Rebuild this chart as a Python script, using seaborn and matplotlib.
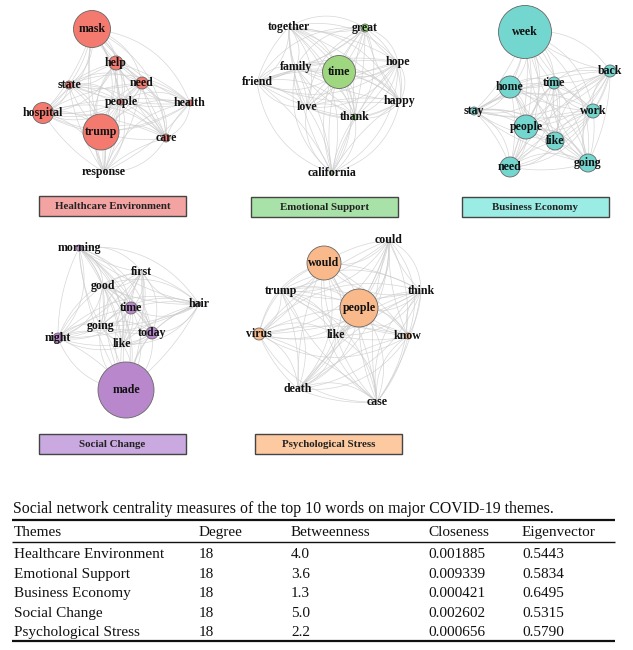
import numpy as np
import matplotlib
matplotlib.use("Agg")
import matplotlib.pyplot as plt
import seaborn as sns
import pandas as pd
from matplotlib.patches import Rectangle

sns.set_theme(style="white")
plt.rcParams["font.family"] = ["Liberation Serif", "DejaVu Serif"]

# ---- networks: word, layout x, layout y (pixels), node radius (pixels)
he_words = ["mask", "help", "state", "need", "people", "health", "hospital", "trump", "care", "response"]
he_x = [92, 116, 69, 142, 121, 190, 43, 101, 166, 104]
he_y = [29, 63, 85, 83, 102, 103, 113, 132, 138, 172]
he_r = [18.5, 7, 4, 6, 3, 3, 10.5, 18, 4, 0.5]

es_words = ["together", "great", "hope", "family", "time", "friend", "happy", "love", "thank", "california"]
es_x = [289, 365, 398, 296, 339, 257, 400, 307, 355, 332]
es_y = [27, 28, 62, 67, 72, 82, 101, 107, 117, 173]
es_r = [0, 4, 0, 0, 16.5, 0, 0, 0, 3, 2]

be_words = ["week", "back", "home", "time", "stay", "work", "people", "like", "need", "going"]
be_x = [525, 610, 510, 554, 474, 593, 526, 555, 510, 588]
be_y = [32, 71, 87, 83, 111, 111, 127, 141, 167, 163]
be_r = [26.5, 6, 11, 6, 4, 7, 12, 9, 10, 9]

sc_words = ["morning", "first", "good", "hair", "time", "going", "today", "night", "like", "made"]
sc_x = [79, 142, 103, 199, 131, 101, 152, 58, 122, 126]
sc_y = [248, 272, 286, 304, 308, 326, 333, 338, 344, 390]
sc_r = [3, 0, 0, 2, 6, 0, 6, 5, 0, 28]

ps_words = ["could", "would", "trump", "think", "people", "virus", "like", "know", "death", "case"]
ps_x = [389, 324, 281, 421, 359, 259, 336, 408, 298, 377]
ps_y = [240, 263, 291, 291, 308, 334, 335, 336, 389, 402]
ps_r = [0, 17, 0, 0, 19, 6, 0, 3, 0, 0]

themes = ["Healthcare Environment", "Emotional Support", "Business Economy", "Social Change", "Psychological Stress"]
node_colors = ["#f47a70", "#9ed77f", "#73d7d0", "#b988cc", "#f9b98a"]
box_colors = ["#f4a3a3", "#a9e2a8", "#9aece5", "#c9a9df", "#fcc9a0"]
box_x = [39, 251, 462, 39, 255]
box_y = [196, 197, 197, 434, 434]

# ---- table
degree = [18, 18, 18, 18, 18]
betweenness = ["4.0", "3.6", "1.3", "5.0", "2.2"]
closeness = ["0.001885", "0.009339", "0.000421", "0.002602", "0.000656"]
eigenvector = ["0.5443", "0.5834", "0.6495", "0.5315", "0.5790"]

networks = [
    (he_words, he_x, he_y, he_r),
    (es_words, es_x, es_y, es_r),
    (be_words, be_x, be_y, be_r),
    (sc_words, sc_x, sc_y, sc_r),
    (ps_words, ps_x, ps_y, ps_r),
]

fig = plt.figure(figsize=(6.33, 6.5), dpi=100)
ax = fig.add_axes([0, 0, 1, 1])


def curve(p, q, rad, n=40):
    p = np.asarray(p, float)
    q = np.asarray(q, float)
    mid = (p + q) / 2
    d = q - p
    ctrl = mid + rad * np.array([-d[1], d[0]])
    t = np.linspace(0, 1, n)[:, None]
    pts = (1 - t) ** 2 * p + 2 * (1 - t) * t * ctrl + t ** 2 * q
    return pts[:, 0], pts[:, 1]


for k, (words, xs, ys, rs) in enumerate(networks):
    # edges: every pair linked, drawn with a couple of curved strokes
    for i in range(len(words)):
        for j in range(i + 1, len(words)):
            for rad in (0.12 if (i + j) % 2 else -0.12, 0.3 if (i * j) % 2 else -0.3):
                cx, cy = curve((xs[i], ys[i]), (xs[j], ys[j]), rad)
                ax.plot(cx, cy, color="#cccccc", lw=0.5, alpha=0.8, zorder=1)

    df = pd.DataFrame({"word": words, "x": xs, "y": ys, "r": rs})
    sizes = {r: (2 * r * 0.72) ** 2 for r in df["r"].unique()}
    sns.scatterplot(data=df, x="x", y="y", size="r", sizes=sizes, color=node_colors[k],
                    edgecolor="#666666", linewidth=0.6, legend=False, ax=ax, zorder=2)
    for w, x, y in zip(words, xs, ys):
        ax.text(x, y, w, ha="center", va="center", fontsize=8.6, fontweight="bold",
                color="#111111", zorder=3)

    ax.add_patch(Rectangle((box_x[k], box_y[k]), 147, 20, facecolor=box_colors[k],
                           edgecolor="#444444", lw=1.0, zorder=2))
    ax.text(box_x[k] + 73.5, box_y[k] + 10.5, themes[k], ha="center", va="center",
            fontsize=7.8, fontweight="bold", color="#222222", zorder=3)

ax.set_xlim(0, 633)
ax.set_ylim(650, 0)
ax.axis("off")

# table
ax.text(13, 513, "Social network centrality measures of the top 10 words on major COVID-19 themes.",
        ha="left", va="baseline", fontsize=11.4, color="#111111")
ax.hlines(520, 12, 615, color="#111111", lw=1.6)
ax.hlines(542, 12, 615, color="#111111", lw=1.0)
ax.hlines(641, 12, 615, color="#111111", lw=1.6)
col_x = [14, 199, 291, 428, 522]
headers = ["Themes", "Degree", "Betweenness", "Closeness", "Eigenvector"]
for cx, h in zip(col_x, headers):
    ax.text(cx, 536, h, ha="left", va="baseline", fontsize=11, color="#111111")
row_y = [558, 578, 597, 617, 636]
for i in range(len(themes)):
    vals = [themes[i], str(degree[i]), betweenness[i], closeness[i], eigenvector[i]]
    for cx, v in zip(col_x, vals):
        ax.text(cx, row_y[i], v, ha="left", va="baseline", fontsize=11, color="#111111")

fig.savefig("out.png", dpi=100)
